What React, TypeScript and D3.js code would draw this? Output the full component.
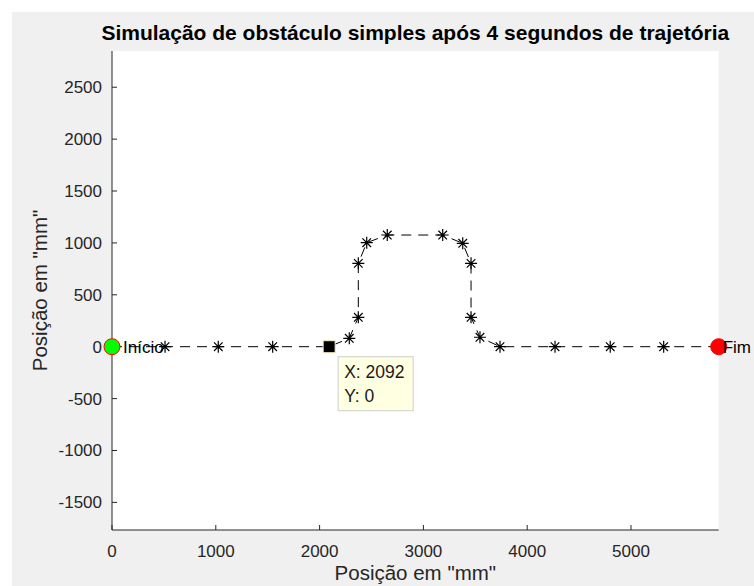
import React from 'react';
import * as d3 from 'd3';

// Trajectory (mm)
const pathX = [0, 511, 1024, 1548, 2092, 2286, 2373, 2373, 2454, 2652, 3186, 3379, 3459, 3459, 3545, 3738, 4268, 4800, 5315, 5845];
const pathY = [0, 0, 0, 0, 0, 81, 283, 803, 1002, 1076, 1076, 996, 803, 283, 91, 0, 0, 0, 0, 0];
const xTicks = [0, 1000, 2000, 3000, 4000, 5000];
const yTicks = [-1500, -1000, -500, 0, 500, 1000, 1500, 2000, 2500];
const xDomain = [0, 5845];
const yDomain = [-1766, 2849];
const titleText = 'Simulação de obstáculo simples após 4 segundos de trajetória';
const xLabelText = 'Posição em "mm"';
const yLabelText = 'Posição em "mm"';
const startLabel = 'Início';
const endLabel = 'Fim';
const tipX = 2092;
const tipY = 0;

const FONT = '"Liberation Sans", Arial, Helvetica, sans-serif';
const AX = '#262626';

export default function App() {
  const W = 754, H = 586;
  const left = 112, right = 718.7, top = 51, bottom = 530;
  const x = d3.scaleLinear().domain(xDomain).range([left, right]);
  const y = d3.scaleLinear().domain(yDomain).range([bottom, top]);
  const pts = pathX.map((v, i) => [v, pathY[i]] as [number, number]);
  const line = d3.line<[number, number]>().x(d => x(d[0])).y(d => y(d[1]));
  const starPath = (cx: number, cy: number) => {
    const a = 6, b = 4.3;
    return `M${cx - a},${cy}L${cx + a},${cy}M${cx},${cy - a}L${cx},${cy + a}` +
      `M${cx - b},${cy - b}L${cx + b},${cy + b}M${cx - b},${cy + b}L${cx + b},${cy - b}`;
  };
  const sx = x(pathX[0]), sy = y(pathY[0]);
  const ex = x(pathX[pathX.length - 1]), ey = y(pathY[pathY.length - 1]);
  const tx = x(tipX), ty = y(tipY);
  return (
    <svg width={W} height={H} style={{ position: 'absolute', left: 0, top: 0 }} fontFamily={FONT}>
      <rect x={0} y={0} width={W} height={H} fill="#ffffff" />
      <rect x={12} y={12} width={W - 12} height={H - 12} fill="#f0f0f0" />
      <rect x={left} y={top} width={right - left} height={bottom - top} fill="#ffffff" />
      {/* axes */}
      <line x1={left} x2={left} y1={top} y2={bottom} stroke={AX} strokeWidth={1} />
      <line x1={left} x2={right} y1={bottom} y2={bottom} stroke={AX} strokeWidth={1} />
      {yTicks.map(t => (
        <g key={'y' + t}>
          <line x1={left} x2={left + 5} y1={y(t)} y2={y(t)} stroke={AX} />
          <text x={102} y={y(t) + 6} textAnchor="end" fontSize={17} fill={AX}>{t}</text>
        </g>
      ))}
      {xTicks.map(t => (
        <g key={'x' + t}>
          <line x1={x(t)} x2={x(t)} y1={bottom} y2={bottom - 5} stroke={AX} />
          <text x={x(t)} y={557} textAnchor="middle" fontSize={17} fill={AX}>{t}</text>
        </g>
      ))}
      <text x={(left + right) / 2} y={580} textAnchor="middle" fontSize={20.5} fill={AX}>{xLabelText}</text>
      <text transform={`translate(47,${(top + bottom) / 2}) rotate(-90)`} textAnchor="middle" fontSize={20.5} fill={AX}>{yLabelText}</text>
      <text x={(left + right) / 2} y={40} textAnchor="middle" fontSize={21} fontWeight="bold" fill="#000">{titleText}</text>
      {/* trajectory */}
      <path d={line(pts) || ''} fill="none" stroke="#000" strokeWidth={1} strokeDasharray="10,7" />
      {pts.map((p, i) => (
        <path key={'s' + i} d={starPath(x(p[0]), y(p[1]))} stroke="#000" strokeWidth={1.2} fill="none" />
      ))}
      {/* data tip marker */}
      <rect x={tx - 6} y={ty - 6} width={12} height={12} fill="#000" stroke="#f5f0c8" strokeWidth={1} />
      {/* start / end */}
      <circle cx={sx} cy={sy} r={8} fill="#00ff00" stroke="#ff0000" strokeWidth={1} />
      <circle cx={ex} cy={ey} r={8} fill="#ff0000" stroke="#ff0000" strokeWidth={1} />
      <text x={sx + 11} y={sy + 6} fontSize={17} fill="#000">{startLabel}</text>
      <text x={ex + 4} y={ey + 6} fontSize={17} fill="#000">{endLabel}</text>
      {/* data tip box */}
      <rect x={tx + 9} y={ty + 10} width={75} height={54} fill="#ffffe1" stroke="#cfcfcf" strokeWidth={1} />
      <text x={tx + 15} y={ty + 31} fontSize={17.5} fill="#1a1a1a">{`X: ${tipX}`}</text>
      <text x={tx + 15} y={ty + 55} fontSize={17.5} fill="#1a1a1a">{`Y: ${tipY}`}</text>
    </svg>
  );
}
